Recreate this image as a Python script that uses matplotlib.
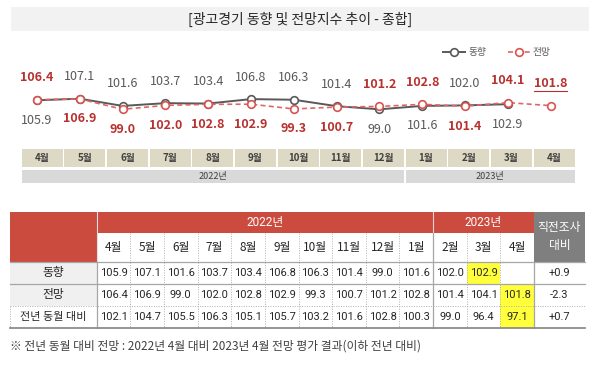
import numpy as np
import matplotlib.pyplot as plt
from matplotlib.patches import Rectangle

plt.rcParams['font.family'] = ['Noto Sans CJK KR', 'DejaVu Sans']

# 데이터
months = ['4월', '5월', '6월', '7월', '8월', '9월', '10월', '11월', '12월',
          '1월', '2월', '3월', '4월']
chart_years = ['2022년', '2023년']
chart_year_counts = [9, 4]
table_years = ['2022년', '2023년']
table_year_counts = [10, 3]

trend = [105.9, 107.1, 101.6, 103.7, 103.4, 106.8, 106.3, 101.4, 99.0,
         101.6, 102.0, 102.9, np.nan]
outlook = [106.4, 106.9, 99.0, 102.0, 102.8, 102.9, 99.3, 100.7, 101.2,
           102.8, 101.4, 104.1, 101.8]
yoy = [102.1, 104.7, 105.5, 106.3, 105.1, 105.7, 103.2, 101.6, 102.8,
       100.3, 99.0, 96.4, 97.1]
prev_diff = ['+0.9', '-2.3', '+0.7']
row_labels = ['동향', '전망', '전년 동월 대비']
highlight = [(0, 11), (1, 12), (2, 12)]

title = '[광고경기 동향 및 전망지수 추이 - 종합]'
note = '※ 전년 동월 대비 전망 : 2022년 4월 대비 2023년 4월 전망 평가 결과(이하 전년 대비)'

GRAY = '#595959'
RED_TXT = '#b8312f'
RED_LINE = '#e06666'
HEAD_RED = '#cc4b3f'
NUM = ['Roboto', 'Noto Sans CJK KR', 'DejaVu Sans']

fig = plt.figure(figsize=(6, 3.65), dpi=100)

# 배경용 축 (픽셀 좌표)
bg = fig.add_axes([0, 0, 1, 1])
bg.set_xlim(0, 600)
bg.set_ylim(365, 0)
bg.axis('off')

# 제목
bg.add_patch(Rectangle((10.7, 7.3), 578.3, 23.4, fc='#f2f2f2', ec='none'))
bg.text(300, 19, title, ha='center', va='center', fontsize=10, color='#262626')

# 꺾은선 그래프
ax = fig.add_axes([15.6 / 600, 1 - 145 / 365, 556.5 / 600, 85 / 365])
ax.set_xlim(-0.5, 12.5)
ax.set_ylim(71.76, 136.64)
ax.axis('off')
ax.patch.set_alpha(0)

x = np.arange(len(months))
ax.plot(x, trend, color=GRAY, lw=1.4, marker='o', ms=5.5, mfc='white',
        mec=GRAY, mew=1.2, label='동향', zorder=3)
ax.plot(x, outlook, color=RED_LINE, lw=1.2, ls=(0, (3, 2)), marker='o', ms=5.5,
        mfc='white', mec='#d9534f', mew=1.2, label='전망', zorder=4)

last_label = None
for i in range(len(months)):
    t, o = trend[i], outlook[i]
    items = []
    if np.isnan(t):
        items.append((o, True, 'up'))
    elif t > o:
        items += [(t, False, 'up'), (o, True, 'down')]
    else:
        items += [(o, True, 'up'), (t, False, 'down')]
    for v, is_red, pos in items:
        dy = 22 if pos == 'up' else -20
        txt = ax.annotate(f'{v:.1f}', (i, v), xytext=(0, dy), textcoords='offset pixels',
                          ha='center', va='center', fontsize=9,
                          color=RED_TXT if is_red else GRAY,
                          fontweight='bold' if is_red else 'normal')
        if i == len(months) - 1:
            last_label = txt

ax.legend(loc='center', bbox_to_anchor=(497 / 600, 1 - 52 / 365),
          bbox_transform=fig.transFigure, ncol=2, frameon=False, fontsize=7,
          handlelength=2.3, columnspacing=2.2, handletextpad=0.3,
          labelcolor=GRAY)

# 월 / 연도 칸
cw = 42.65
for i, m in enumerate(months):
    x0 = 21.7 + cw * i
    bg.add_patch(Rectangle((x0, 149.3), cw - 1.6, 17.4, fc='#ddd9c4', ec='none'))
    bg.text(x0 + (cw - 1.6) / 2, 158, m, ha='center', va='center', fontsize=7,
            fontweight='bold', color='#404040')
start = 0
for yr, n in zip(chart_years, chart_year_counts):
    x0 = 21.7 + cw * start
    x1 = 21.7 + cw * (start + n) - 1.6
    bg.add_patch(Rectangle((x0, 169.5), x1 - x0, 13.8, fc='#d9d9d9', ec='none'))
    bg.text((x0 + x1) / 2, 176.6, yr, ha='center', va='center', fontsize=6.5,
            color='#404040')
    start += n

# 표
L, C0, C1, R = 9.5, 96.7, 534.0, 585.0
rows = [212.0, 233.3, 262.0, 283.5, 306.0, 328.0]
colw = (C1 - C0) / len(months)

bg.add_patch(Rectangle((L, rows[0]), C0 - L, rows[2] - rows[0], fc=HEAD_RED, ec='none'))
bg.add_patch(Rectangle((C0, rows[0]), C1 - C0, rows[1] - rows[0], fc=HEAD_RED, ec='none'))
bg.add_patch(Rectangle((C1, rows[0]), R - C1, rows[2] - rows[0], fc='#7f7f7f', ec='none'))
bg.text((C1 + R) / 2, (rows[0] + rows[2]) / 2, '직전조사\n대비', ha='center', va='center',
        fontsize=8.5, color='white', linespacing=1.5)
bg.plot([C0, C0], [rows[0], rows[2]], color='#e0e0e0', lw=0.8)

start = 0
for yr, n in zip(table_years, table_year_counts):
    x0 = C0 + colw * start
    x1 = C0 + colw * (start + n)
    bg.text((x0 + x1) / 2, (rows[0] + rows[1]) / 2, yr, ha='center', va='center',
            fontsize=8.5, color='white', family=NUM)
    if start > 0:
        bg.plot([x0, x0], [rows[0], rows[1]], color='#f0d0cc', lw=0.8)
    start += n

for r in range(2):
    bg.add_patch(Rectangle((L, rows[2 + r]), C0 - L, rows[3 + r] - rows[2 + r],
                           fc='#f0f0f0', ec='none'))

for (r, c) in highlight:
    bg.add_patch(Rectangle((C0 + colw * c, rows[2 + r]), colw, rows[3 + r] - rows[2 + r],
                           fc='#ffff3c', ec='none'))

# 선
for j in range(1, len(months)):
    xx = C0 + colw * j
    if j == table_year_counts[0]:
        bg.plot([xx, xx], [rows[1], rows[5]], color='#a6a6a6', lw=0.9)
    else:
        bg.plot([xx, xx], [rows[1], rows[5]], color='#b0b0b0', lw=0.7, ls=(0, (1, 1.5)))
bg.plot([C0, C0], [rows[2], rows[5]], color='#a6a6a6', lw=0.9)
bg.plot([C1, C1], [rows[2], rows[5]], color='#a6a6a6', lw=0.9)
bg.plot([L, L], [rows[4], rows[5]], color='#b0b0b0', lw=0.7, ls=(0, (1, 1.5)))
bg.plot([L, R], [rows[2], rows[2]], color='#a6a6a6', lw=0.9)
bg.plot([L, R], [rows[3], rows[3]], color='#a6a6a6', lw=0.9)
bg.plot([L, R], [rows[4], rows[4]], color='#b0b0b0', lw=0.7, ls=(0, (1, 1.5)))
bg.plot([L, R], [rows[5], rows[5]], color='#8c8c8c', lw=1.3)

# 글자
for j, m in enumerate(months):
    bg.text(C0 + colw * (j + 0.5), (rows[1] + rows[2]) / 2, m, ha='center', va='center',
            fontsize=8.5, color='#262626')

table_rows = [trend, outlook, yoy]
for r, (lab, vals) in enumerate(zip(row_labels, table_rows)):
    yc = (rows[2 + r] + rows[3 + r]) / 2
    bg.text((L + C0) / 2, yc, lab, ha='center', va='center',
            fontsize=8.5 if r < 2 else 8, color='#262626')
    for j, v in enumerate(vals):
        if np.isnan(v):
            continue
        bg.text(C0 + colw * (j + 0.5), yc, f'{v:.1f}', ha='center', va='center',
                fontsize=8, color='#262626', family=NUM)
    bg.text((C1 + R) / 2, yc, prev_diff[r], ha='center', va='center',
            fontsize=8, color='#262626', family=NUM)

# 각주
bg.text(9.5, 346, note, ha='left', va='center', fontsize=8.5, color='#404040')

# 마지막 값 밑줄
fig.canvas.draw()
bb = last_label.get_window_extent()
bg.plot([bb.x0, bb.x1], [365 - bb.y0 + 0.5, 365 - bb.y0 + 0.5], color=RED_TXT, lw=0.8)

plt.savefig('out.png', dpi=100)
